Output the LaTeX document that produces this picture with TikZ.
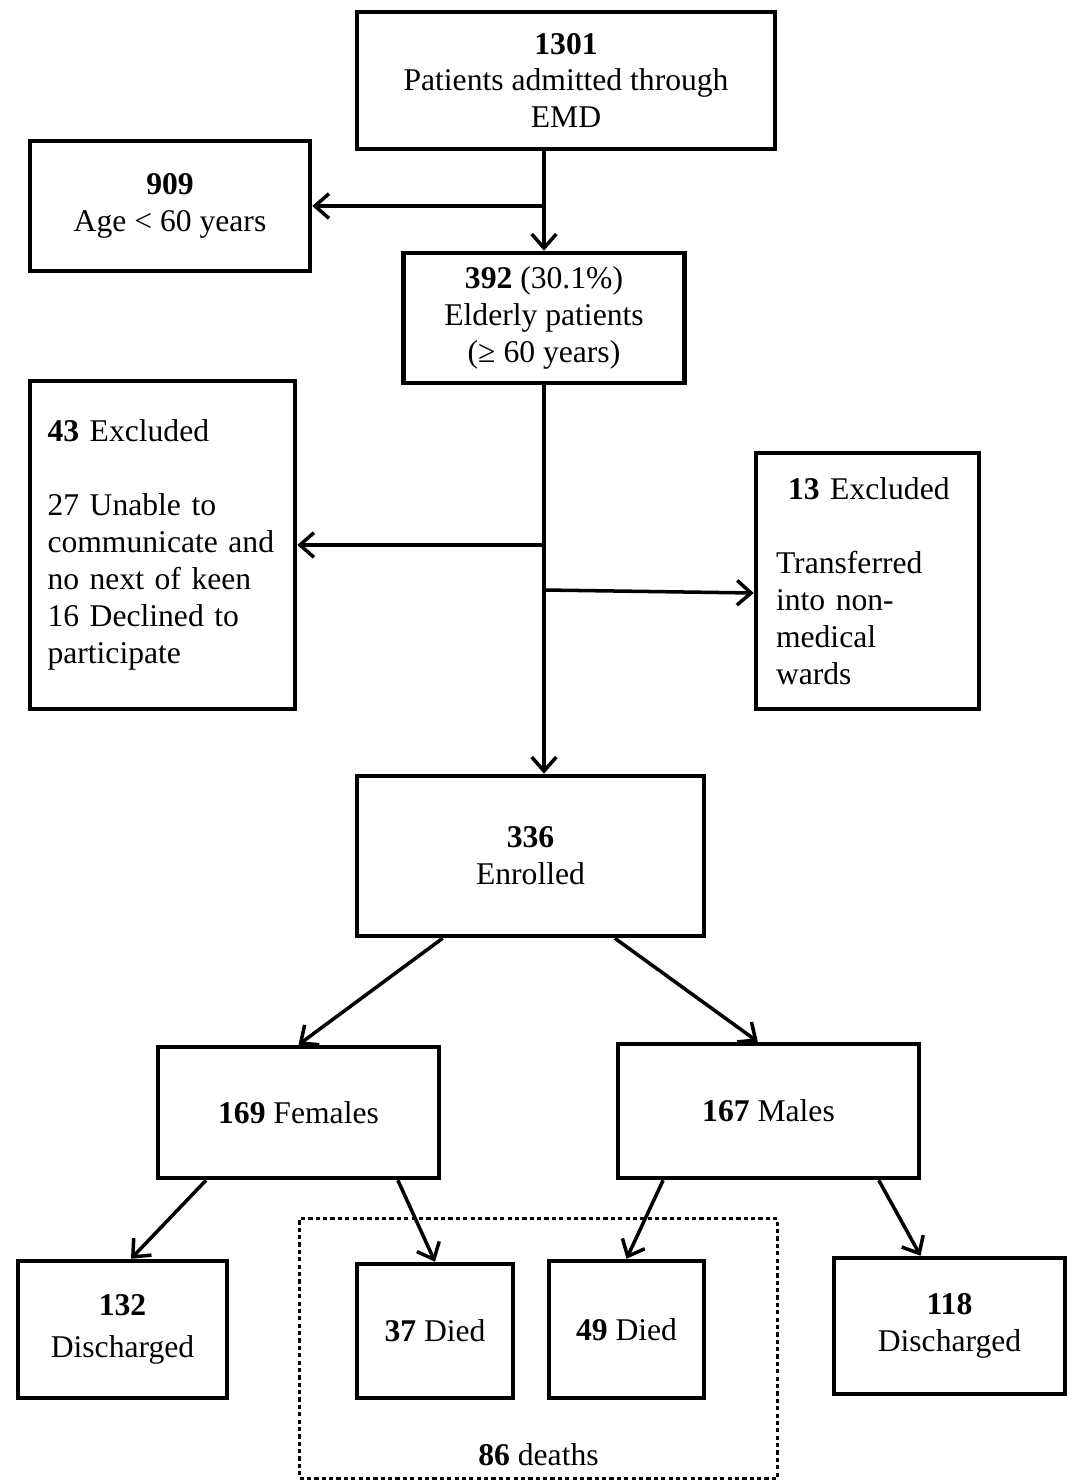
\documentclass[tikz,border=0pt]{standalone}
\usepackage{fontspec}
\setmainfont{Liberation Serif}
\usetikzlibrary{arrows.meta, positioning, calc}

\begin{document}
\begin{tikzpicture}[
  x=0.02cm, y=-0.02cm,
  font=\fontsize{18}{21}\selectfont,
  box/.style = {
    rectangle, draw=black, line width=2.6pt,
    align=center, inner sep=4pt
  },
  arr/.style = {-{Straight Barb[length=8pt, width=14pt]}, line width=2pt},
  deaths/.style = {draw=black, line width=2pt, dash pattern=on 2.4pt off 1.8pt}
]
  \useasboundingbox (0,0) rectangle (1075,1483);

  % Screening
  \node[box, minimum width=8.36cm, minimum height=2.74cm] (adm) at (566,80.5)
    {\textbf{1301}\\Patients admitted through\\EMD};
  \node[box, minimum width=5.6cm, minimum height=2.6cm] (young) at (170,206)
    {\textbf{909}\\Age < 60 years};
  \node[box, minimum width=5.62cm, minimum height=2.6cm] (eld) at (544,318)
    {\textbf{392} (30.1\%)\\Elderly patients\\(≥ 60 years)};

  % Exclusions
  \node[box, align=left, text width=4.6cm, minimum width=5.3cm, minimum height=6.56cm] (exA) at (162.5,545)
    {\textbf{43} Excluded\\[21pt]27 Unable to\\communicate and\\no next of keen\\16 Declined to\\participate};
  \node[box, align=left, text width=3.66cm, minimum width=4.46cm, minimum height=5.12cm] (exB) at (867.5,581)
    {\noindent\hspace*{0.24cm}\textbf{13} Excluded\\[21pt]Transferred\\into non-\\medical\\wards};

  % Enrolment and outcome
  \node[box, minimum width=6.94cm, minimum height=3.2cm] (enr) at (530.5,856)
    {\textbf{336}\\Enrolled};
  \node[box, minimum width=5.62cm, minimum height=2.62cm] (fem) at (298.5,1112.5)
    {\textbf{169} Females};
  \node[box, minimum width=6.02cm, minimum height=2.68cm] (mal) at (768.5,1111)
    {\textbf{167} Males};
  \node[box, minimum width=4.18cm, minimum height=2.74cm] (disF) at (122.5,1329.5)
    {\textbf{132}\\[3pt]Discharged};
  \node[box, minimum width=3.12cm, minimum height=2.68cm] (dieF) at (435,1331)
    {\textbf{37} Died};
  \node[box, minimum width=3.1cm, minimum height=2.74cm] (dieM) at (626.5,1329.5)
    {\textbf{49} Died};
  \node[box, minimum width=4.62cm, minimum height=2.72cm] (disM) at (949.5,1326)
    {\textbf{118}\\Discharged};

  \draw[arr] (eld.north |- adm.south) -- (eld.north);
  \draw[arr] (eld.north |- young.east) -- (young.east);
  \draw[arr] (eld.south) -- (eld.south |- enr.north);
  \draw[arr] (eld.south |- exA.east) -- (exA.east);
  \draw[arr] (eld.south |- 0,590) -- (exB.west |- 0,593);

  \draw[arr] ($(enr.south west)!0.25!(enr.south east)$) -- (fem.north);
  \draw[arr] ($(enr.south west)!0.74!(enr.south east)$) -- ($(mal.north west)!0.465!(mal.north east)$);
  \draw[arr] ($(fem.south west)!0.176!(fem.south east)$) -- ($(disF.north west)!0.54!(disF.north east)$);
  \draw[arr] ($(fem.south west)!0.848!(fem.south east)$) -- (dieF.north);
  \draw[arr] ($(mal.south west)!0.155!(mal.south east)$) -- (dieM.north);
  \draw[arr] ($(mal.south west)!0.861!(mal.south east)$) -- ($(disM.north west)!0.377!(disM.north east)$);

  % Deaths group
  \node[deaths, minimum width=9.56cm, minimum height=5.2cm] (grp) at (538.5,1348.5) {};
  \node (dlab) at (538.5,1455) {\textbf{86} deaths};
\end{tikzpicture}
\end{document}
